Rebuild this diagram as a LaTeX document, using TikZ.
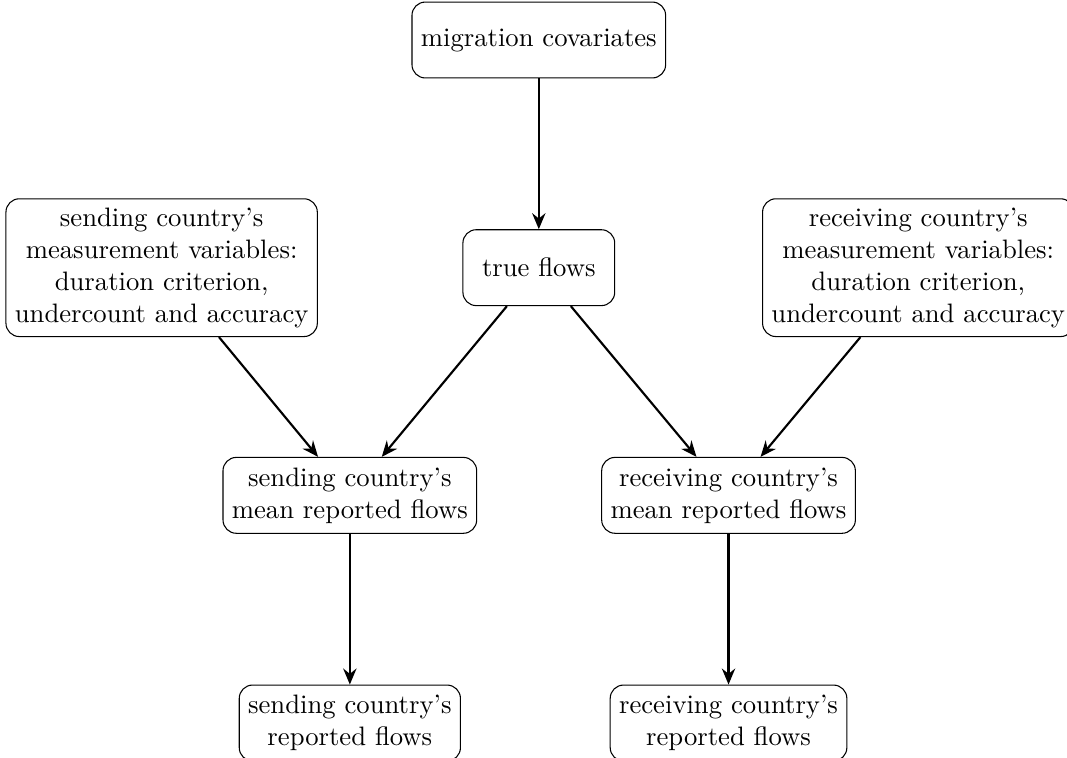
\documentclass[tikz,border=0pt]{standalone}
\usetikzlibrary{arrows.meta}
\begin{document}
\begin{tikzpicture}[
  box/.style={draw, rounded corners=5pt, align=center, minimum height=1cm, minimum width=2cm},
  conn/.style={thick, -{Stealth[length=6pt,width=5pt,inset=2pt]}}
]
\useasboundingbox (-7.1,0.527) rectangle (6.96,-9.46);
\node[box] (mig) at (0,0) {migration covariates};
\node[box] (true) at (0,-3) {true flows};
\node[box] (smeas) at (-4.97,-3) {sending country's\\measurement variables:\\duration criterion,\\undercount and accuracy};
\node[box] (rmeas) at (5.0,-3) {receiving country's\\measurement variables:\\duration criterion,\\undercount and accuracy};
\node[box] (smean) at (-2.49,-6) {sending country's\\mean reported flows};
\node[box] (rmean) at (2.5,-6) {receiving country's\\mean reported flows};
\node[box] (srep) at (-2.49,-9) {sending country's\\reported flows};
\node[box] (rrep) at (2.5,-9) {receiving country's\\reported flows};
\draw[conn] (mig) -- (true);
\draw[conn] (smeas) -- (smean);
\draw[conn] (true) -- (smean);
\draw[conn] (true) -- (rmean);
\draw[conn] (rmeas) -- (rmean);
\draw[conn] (smean) -- (srep);
\draw[conn] (rmean) -- (rrep);
\end{tikzpicture}
\end{document}
